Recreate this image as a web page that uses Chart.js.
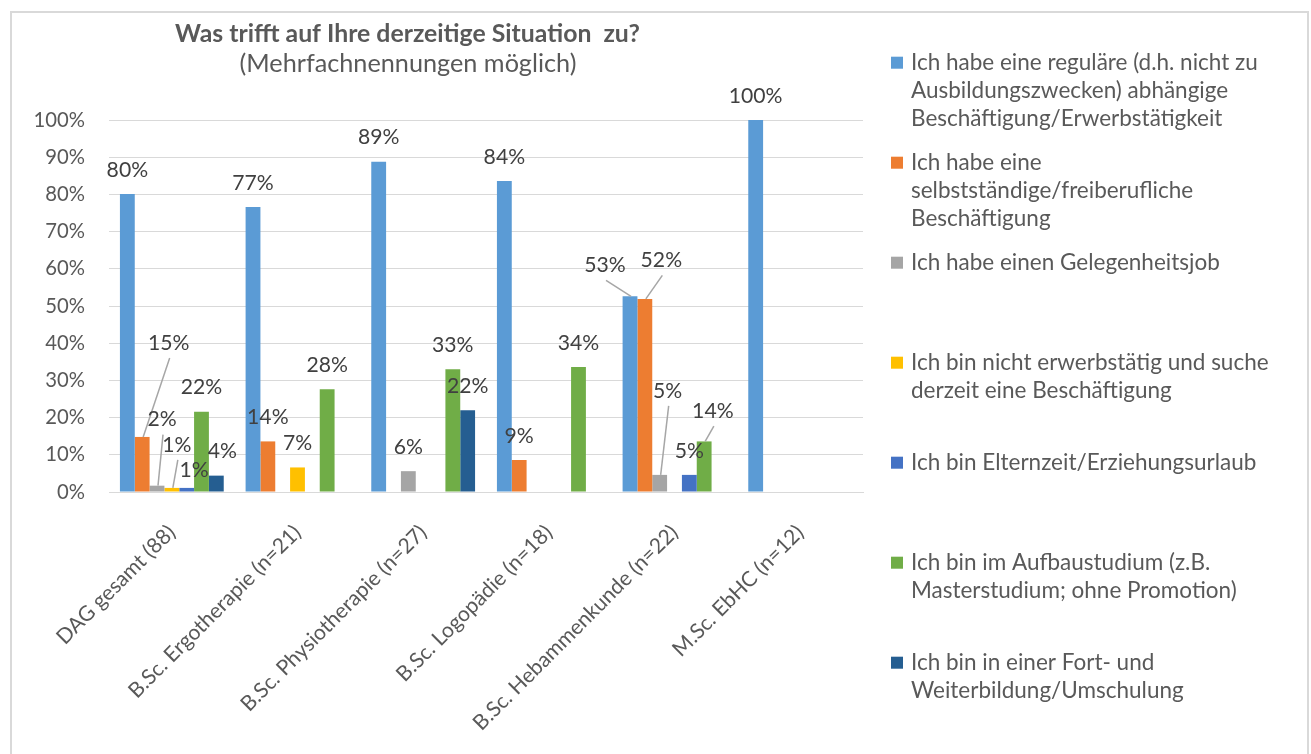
<!DOCTYPE html>
<html><head><meta charset="utf-8">
<script src="https://cdn.jsdelivr.net/npm/chart.js@4"></script>
<style>html,body{margin:0;padding:0;background:#fff;overflow:hidden}</style>
</head><body>
<canvas id="c" width="1311" height="754"></canvas>
<script>
// ---------- DATA ----------
const categories = ['DAG gesamt (88)', 'B.Sc. Ergotherapie (n=21)', 'B.Sc. Physiotherapie (n=27)', 'B.Sc. Logopädie (n=18)', 'B.Sc. Hebammenkunde (n=22)', 'M.Sc. EbHC (n=12)'];
const regulaer      = [80.1, 76.6, 88.8, 83.6, 52.6, 100];
const selbststaendig = [14.8, 13.6, null, 8.6, 51.9, null];
const gelegenheit   = [1.7, null, 5.6, null, 4.6, null];
const suchend       = [1.1, 6.6, null, null, null, null];
const elternzeit    = [1.1, null, null, null, 4.6, null];
const aufbau        = [21.6, 27.6, 33.0, 33.6, 13.6, null];
const fortbildung   = [4.4, null, 22.0, null, null, null];
const yTicks = [0, 10, 20, 30, 40, 50, 60, 70, 80, 90, 100];
const seriesNames = [
  ['Ich habe eine reguläre (d.h. nicht zu', 'Ausbildungszwecken) abhängige', 'Beschäftigung/Erwerbstätigkeit'],
  ['Ich habe eine', 'selbstständige/freiberufliche', 'Beschäftigung'],
  ['Ich habe einen Gelegenheitsjob'],
  ['Ich bin nicht erwerbstätig und suche', 'derzeit eine Beschäftigung'],
  ['Ich bin Elternzeit/Erziehungsurlaub'],
  ['Ich bin im Aufbaustudium (z.B.', 'Masterstudium; ohne Promotion)'],
  ['Ich bin in einer Fort- und', 'Weiterbildung/Umschulung']
];
const titleText = 'Was trifft auf Ihre derzeitige Situation  zu?';
const subtitleText = '(Mehrfachnennungen möglich)';

// ---------- STYLE ----------
const colors = ['#5B9BD5', '#ED7D31', '#A5A5A5', '#FFC000', '#4472C4', '#70AD47', '#255E91'];
const FAMILY = 'Lato';
const TEXT = '#595959';
const LABEL = '#404040';
// label displacements (dataset, category) -> [dx, dy, leader]
const labelShift = {
  '1,0': [26.5, -70, true],
  '2,0': [5, -42, true],
  '3,0': [5, -19, true],
  '4,0': [7.5, 6.5, false],
  '6,0': [6, 0, false],
  '0,4': [-25, -7, true],
  '1,4': [16.5, -14.6, true],
  '2,4': [8, -60, true],
  '5,4': [8.7, -6.3, true]
};

function fit(text, target, weight) {
  const c = document.createElement('canvas').getContext('2d');
  c.font = weight + ' 100px ' + FAMILY;
  return 100 * target / c.measureText(text).width;
}

function build() {
  const legendSize = fit(seriesNames[0][0], 347, 'normal');
  const tickSize = fit('100%', 51.5, 'normal');
  const catSize = fit(categories[0], 158, 'normal');
  const labelSize = fit('80%', 41.5, 'normal');
  const titleSize = fit(titleText, 465, 'bold');
  const subSize = fit(subtitleText, 337, 'normal');

  const seriesData = [regulaer, selbststaendig, gelegenheit, suchend, elternzeit, aufbau, fortbildung];

  const deco = {
    id: 'deco',
    afterDatasetsDraw(chart) {
      const ctx = chart.ctx;
      ctx.save();
      ctx.font = labelSize + 'px ' + FAMILY;
      ctx.textAlign = 'center';
      ctx.textBaseline = 'middle';
      seriesData.forEach((arr, i) => {
        const meta = chart.getDatasetMeta(i);
        arr.forEach((v, j) => {
          if (v === null) return;
          const el = meta.data[j];
          let lx = el.x, ly = el.y - 24;
          const s = labelShift[i + ',' + j];
          if (s) {
            lx += s[0]; ly += s[1];
            if (s[2]) {
              ctx.strokeStyle = '#A6A6A6';
              ctx.lineWidth = 1.5;
              ctx.beginPath();
              ctx.moveTo(lx + 1, ly + 15);
              ctx.lineTo(el.x + 1, el.y);
              ctx.stroke();
            }
          }
          ctx.fillStyle = LABEL;
          ctx.fillText(Math.round(v) + '%', lx, ly);
        });
      });
      ctx.restore();
    },
    afterDraw(chart) {
      const ctx = chart.ctx;
      ctx.save();
      // frame
      ctx.strokeStyle = '#D9D9D9';
      ctx.lineWidth = 2;
      ctx.strokeRect(11, 12, 1297, 780);
      // title
      ctx.fillStyle = TEXT;
      ctx.textAlign = 'center';
      ctx.textBaseline = 'middle';
      ctx.font = 'bold ' + titleSize + 'px ' + FAMILY;
      ctx.fillText(titleText, 407.5, 34);
      ctx.font = subSize + 'px ' + FAMILY;
      ctx.fillText(subtitleText, 408, 64);
      // legend
      ctx.textAlign = 'left';
      ctx.font = legendSize + 'px ' + FAMILY;
      seriesNames.forEach((lines, i) => {
        const y0 = 62.7 + i * 100;
        ctx.fillStyle = colors[i];
        ctx.fillRect(891, y0 - 6, 12, 12);
        ctx.fillStyle = TEXT;
        lines.forEach((t, k) => ctx.fillText(t, 911, y0 + k * 28));
      });
      ctx.restore();
    }
  };

  new Chart(document.getElementById('c'), {
    type: 'bar',
    data: {
      labels: categories,
      datasets: seriesData.map((d, i) => ({
        label: seriesNames[i].join(' '),
        data: d,
        backgroundColor: colors[i],
        borderWidth: 0,
        categoryPercentage: 0.826,
        barPercentage: 1
      }))
    },
    options: {
      responsive: false,
      animation: false,
      devicePixelRatio: 1,
      layout: { padding: { left: 0, right: 448, top: 120, bottom: 0 } },
      plugins: { legend: { display: false }, tooltip: { enabled: false }, title: { display: false } },
      scales: {
        x: {
          grid: { display: false },
          border: { display: true, color: '#D9D9D9', width: 1 },
          ticks: {
            autoSkip: false, maxRotation: 45, minRotation: 45,
            color: TEXT, padding: 20,
            font: { family: FAMILY, size: catSize }
          },
          afterFit(s) { s.height = 754 - 492; }
        },
        y: {
          min: 0, max: 100,
          afterBuildTicks(s) { s.ticks = yTicks.map(v => ({ value: v })); },
          grid: { color: '#D9D9D9', lineWidth: 1, drawTicks: false },
          border: { display: false },
          ticks: {
            color: TEXT, padding: 24,
            font: { family: FAMILY, size: tickSize },
            callback: v => v + '%'
          },
          afterFit(s) { s.width = 109; }
        }
      }
    },
    plugins: [deco]
  });
}

if (document.fonts && document.fonts.load) {
  Promise.all([document.fonts.load('16px Lato'), document.fonts.load('bold 16px Lato')]).then(build, build);
} else build();
</script>
</body></html>
